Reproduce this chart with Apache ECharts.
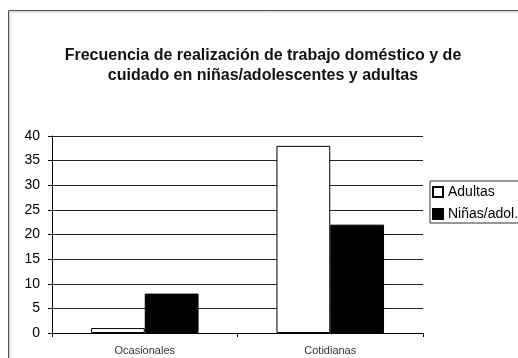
<!DOCTYPE html>
<html>
<head>
<meta charset="utf-8">
<script src="https://cdn.jsdelivr.net/npm/echarts@6/dist/echarts.min.js"></script>
<style>
  html, body { margin: 0; padding: 0; background: #fff; }
  #chart { width: 518px; height: 358px; }
</style>
</head>
<body>
<div id="chart"></div>
<script>
// Frequency of domestic and care work by group
const categories = ['Ocasionales', 'Cotidianas'];
const adultas = [1, 38];
const ninas = [8, 22];
const yTicks = { min: 0, max: 40, interval: 5 };

const chart = echarts.init(document.getElementById('chart'));
chart.setOption({
  animation: false,
  backgroundColor: '#fff',
  textStyle: { fontFamily: 'Liberation Sans, Arial, sans-serif' },
  graphic: [{
    type: 'rect',
    shape: { x: 8.5, y: 10.5, width: 540, height: 380 },
    style: { fill: 'none', stroke: '#555', lineWidth: 1, shadowColor: 'rgba(0,0,0,0.35)', shadowBlur: 2, shadowOffsetX: 1, shadowOffsetY: 1 },
    silent: true
  }],
  title: {
    text: 'Frecuencia de realización de trabajo doméstico y de\ncuidado en niñas/adolescentes y adultas',
    left: 258,
    top: 41,
    textAlign: 'center',
    textStyle: { fontSize: 16, fontWeight: 'bold', color: '#111', lineHeight: 20, fontFamily: 'Liberation Sans, Arial, sans-serif' }
  },
  legend: {
    orient: 'vertical',
    left: 430,
    top: 181,
    padding: [4, 6, 2, 2],
    itemGap: 8,
    itemWidth: 10,
    itemHeight: 10,
    borderColor: '#333',
    borderWidth: 1,
    icon: 'rect',
    textStyle: { fontSize: 14, color: '#000' },
    data: ['Adultas', 'Niñas/adol.']
  },
  grid: { left: 52, right: 95, top: 136, bottom: 25, containLabel: false },
  xAxis: {
    type: 'category',
    data: categories,
    axisLine: { lineStyle: { color: '#000', width: 1 } },
    axisTick: { show: true, length: 4, lineStyle: { color: '#000' } },
    axisLabel: { fontSize: 11, color: '#333', margin: 12 }
  },
  yAxis: {
    type: 'value',
    min: yTicks.min,
    max: yTicks.max,
    interval: yTicks.interval,
    axisLine: { show: true, lineStyle: { color: '#000', width: 1 } },
    axisTick: { show: true, length: 4, lineStyle: { color: '#000' } },
    axisLabel: { fontSize: 14, color: '#000', margin: 12 },
    splitLine: { lineStyle: { color: '#222', width: 1 } }
  },
  series: [
    {
      name: 'Adultas',
      type: 'bar',
      data: adultas,
      barGap: '0%',
      barCategoryGap: '42%',
      itemStyle: { color: '#fff', borderColor: '#000', borderWidth: 1 }
    },
    {
      name: 'Niñas/adol.',
      type: 'bar',
      data: ninas,
      itemStyle: { color: '#000', borderColor: '#000', borderWidth: 1 }
    }
  ]
});
</script>
</body>
</html>
